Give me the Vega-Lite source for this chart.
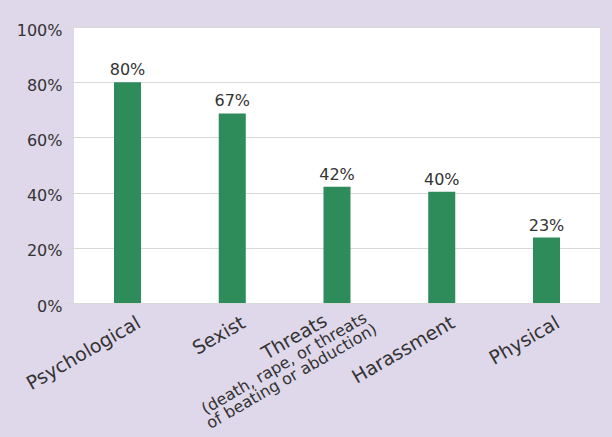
{
  "$schema": "https://vega.github.io/schema/vega-lite/v6.json",
  "width": 526,
  "height": 276,
  "autosize": {"type": "none"},
  "padding": {"left": 74, "top": 27, "right": 12, "bottom": 134},
  "background": "#dfd7ea",
  "config": {"view": {"fill": "white", "stroke": null}, "font": "DejaVu Sans"},
  "data": {"values": [
    {"category": "Psychological", "value": 0.80, "label": "80%", "sub": ""},
    {"category": "Sexist", "value": 0.687, "label": "67%", "sub": ""},
    {"category": "Threats", "value": 0.421, "label": "42%", "sub": "(death, rape, or threats\nof beating or abduction)"},
    {"category": "Harassment", "value": 0.403, "label": "40%", "sub": ""},
    {"category": "Physical", "value": 0.237, "label": "23%", "sub": ""}
  ]},
  "encoding": {
    "x": {
      "field": "category", "type": "nominal", "sort": null,
      "scale": {"paddingInner": 0.742, "paddingOuter": 0.382},
      "axis": {
        "title": null, "labelAngle": -30, "labelAlign": "right", "labelBaseline": "top",
        "labelFontSize": 19, "labelColor": "#333333", "ticks": false, "domain": false, "grid": false,
        "labelPadding": {"condition": {"test": "datum.value === 'Threats'", "value": 8}, "value": 10},
        "labelOffset": {"condition": {"test": "datum.value === 'Threats'", "value": -16}, "value": 7}
      }
    }
  },
  "layer": [
    {
      "mark": {"type": "bar", "color": "#2e8b5a"},
      "encoding": {
        "y": {
          "field": "value", "type": "quantitative",
          "scale": {"domain": [0, 1], "nice": false},
          "axis": {
            "title": null, "values": [0, 0.2, 0.4, 0.6, 0.8, 1], "format": ".0%",
            "labelFontSize": 16, "labelColor": "#333333", "tickSize": 9, "tickColor": "#d9d9d9",
            "gridColor": "#d9d9d9", "grid": true, "domain": false, "labelPadding": 3, "labelOffset": 3
          }
        }
      }
    },
    {
      "mark": {"type": "text", "baseline": "alphabetic", "dy": -7, "fontSize": 16, "color": "#333333"},
      "encoding": {
        "y": {"field": "value", "type": "quantitative"},
        "text": {"field": "label"}
      }
    },
    {
      "transform": [{"filter": "datum.sub != ''"}],
      "mark": {"type": "text", "angle": -30, "align": "center", "baseline": "top", "dx": -76, "dy": 18, "fontSize": 16, "lineHeight": 15, "lineBreak": "\n", "color": "#333333"},
      "encoding": {
        "y": {"datum": 0, "type": "quantitative"},
        "text": {"field": "sub"}
      }
    }
  ]
}
